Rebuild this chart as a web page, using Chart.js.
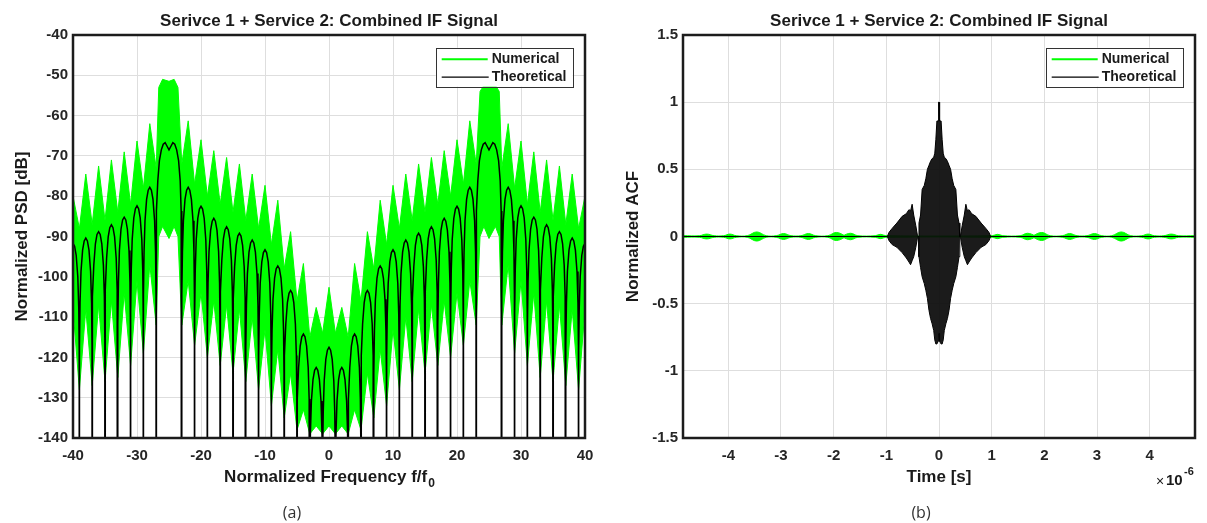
<!DOCTYPE html>
<html><head><meta charset="utf-8">
<script src="https://cdn.jsdelivr.net/npm/chart.js@4/dist/chart.umd.min.js"></script>
<style>
html,body{margin:0;padding:0;background:#fff;}
#wrap{position:relative;width:1207px;height:523px;overflow:hidden;background:#fff;}
#c1{position:absolute;left:0;top:0;}
#c2{position:absolute;left:603px;top:0;}
.cap{position:absolute;top:500px;width:40px;text-align:center;font-family:"Open Sans","Noto Sans",sans-serif;font-size:16px;color:#333;line-height:24px;}
</style></head>
<body><div id="wrap">
<canvas id="c1" width="603" height="523"></canvas>
<canvas id="c2" width="604" height="523"></canvas>
<div class="cap" style="left:272px;">(a)</div>
<div class="cap" style="left:901px;">(b)</div>
</div>
<script>
// ---------- Panel (a): PSD data ----------
const psdLobeCenter = [-40,-38,-36,-34,-32,-30,-28,-25,-22,-20,-18,-16,-14,-12,-10,-8,-6,-4,-2,0,2,4,6,8,10,12,14,16,18,20,22,25,28,30,32,34,36,38,40];
const psdTheoPeak   = [-91.7,-90.4,-88.8,-87.1,-85.2,-82.4,-77.8,-66.7,-77.8,-82.5,-85.5,-87.6,-89.2,-90.9,-93.3,-97.3,-103.4,-114.2,-122.5,-117.5,-122.5,-114.2,-103.4,-97.3,-93.3,-90.9,-89.2,-87.6,-85.5,-82.5,-77.8,-66.7,-77.8,-82.4,-85.2,-87.1,-88.8,-90.4,-91.7];
const psdNumTop     = [-80,-74.5,-72.5,-71,-69,-66.3,-62,-51.5,-61.3,-66,-68.7,-70.4,-72,-74.5,-77.3,-81,-88.8,-96.7,-107.6,-102.6,-107.6,-96.7,-88.8,-81,-77.3,-74.5,-72,-70.4,-68.7,-66,-61.3,-52.5,-62,-66.3,-69,-71,-72.5,-74.5,-80];
const psdNumBottom  = [-108,-108,-107,-106,-104,-101,-97,-90.5,-101,-104,-106,-107,-108,-110,-113,-118,-124,-133,-137,-137,-137,-133,-124,-118,-113,-110,-108,-107,-106,-104,-101,-90.5,-97,-101,-104,-106,-107,-108,-108];
const psdNullX      = [-39,-37,-35,-33,-31,-29,-27,-23,-21,-19,-17,-15,-13,-11,-9,-7,-5,-3,-1,1,3,5,7,9,11,13,15,17,19,21,23,27,29,31,33,35,37,39];
const psdNumNotch   = [-88,-87,-86,-84,-82,-78,-73,-72,-77,-80,-82,-84,-86,-88,-92,-98,-106,-115,-114,-114,-115,-106,-98,-92,-88,-86,-84,-82,-80,-77,-72,-73,-78,-82,-84,-86,-87,-88];
const psdNumNullLow = [-128,-127,-126,-125,-122,-119,-112,-112,-117,-120,-122,-124,-126,-128,-132,-135,-138,-139,-139,-139,-139,-138,-135,-132,-128,-126,-124,-122,-120,-117,-112,-112,-119,-122,-125,-126,-127,-128];
const psdNumMainX      = [-26.6,-26,-24.2,-23.6,23.6,24.2,26,26.6];
const psdNumMainTop    = [-53,-51,-51,-53,-54,-52.5,-52.5,-54];
const psdNumMainBottom = [-90,-87.5,-87.5,-90,-90,-87.5,-87.5,-90];
// lobe profiles (offset from lobe centre, dB below lobe peak)
const psdSideShapeDx = [-1,-0.97,-0.9,-0.75,-0.5,-0.25,0,0.25,0.5,0.75,0.9,0.97,1];
const psdSideShapeDb = [-300,-26.5,-16.1,-8.3,-3.0,-0.7,0,-0.7,-3.0,-8.3,-16.1,-26.5,-300];
const psdMainShapeDx = [-2,-1.97,-1.9,-1.75,-1.5,-1.2,-0.9,-0.6,-0.3,0,0.3,0.6,0.9,1.2,1.5,1.75,1.9,1.97,2];
const psdMainShapeDb = [-300,-27,-17,-9.5,-4.5,-1.8,-0.4,0,-0.9,-1.8,-0.9,0,-0.4,-1.8,-4.5,-9.5,-17,-27,-300];
const psdXTicks = [-40,-30,-20,-10,0,10,20,30,40];
const psdYTicks = [-140,-130,-120,-110,-100,-90,-80,-70,-60,-50,-40];

// ---------- Panel (b): ACF data (time in 1e-6 s) ----------
const acfTheoT     = [-4.86,-0.98,-0.95,-0.89,-0.8,-0.7,-0.62,-0.57,-0.54,-0.51,-0.48,-0.44,-0.41,-0.395,-0.38,-0.35,-0.32,-0.28,-0.25,-0.22,-0.19,-0.16,-0.13,-0.1,-0.08,-0.06,-0.04,-0.015,-0.008,0,0.008,0.015,0.04,0.06,0.08,0.1,0.13,0.16,0.19,0.22,0.25,0.28,0.32,0.35,0.38,0.395,0.41,0.44,0.48,0.51,0.54,0.57,0.62,0.7,0.8,0.89,0.95,0.98,4.86];
const acfTheoUpper = [0,0,0.03,0.06,0.1,0.15,0.17,0.2,0.19,0.24,0.16,0.08,0.01,0,0.1,0.16,0.35,0.38,0.43,0.5,0.53,0.56,0.58,0.59,0.62,0.72,0.86,0.86,1.0,1.0,1.0,0.86,0.86,0.72,0.62,0.59,0.58,0.56,0.53,0.5,0.43,0.38,0.35,0.16,0.1,0,0.01,0.08,0.16,0.24,0.19,0.2,0.17,0.15,0.1,0.06,0.03,0,0];
const acfTheoLower = [0,0,-0.03,-0.06,-0.08,-0.12,-0.16,-0.19,-0.21,-0.18,-0.15,-0.08,-0.01,0,-0.15,-0.23,-0.3,-0.35,-0.4,-0.46,-0.55,-0.61,-0.65,-0.7,-0.77,-0.8,-0.8,-0.78,-0.72,-0.72,-0.72,-0.78,-0.8,-0.8,-0.77,-0.7,-0.65,-0.61,-0.55,-0.46,-0.4,-0.35,-0.3,-0.23,-0.15,0,-0.01,-0.08,-0.15,-0.18,-0.21,-0.19,-0.16,-0.12,-0.08,-0.06,-0.03,0,0];
const acfNumBumpT   = [-4.41,-3.97,-3.46,-2.95,-2.48,-1.95,-1.68,-1.11,1.11,1.68,1.95,2.48,2.95,3.46,3.97,4.41];
const acfNumBumpAmp = [0.018,0.018,0.034,0.022,0.022,0.03,0.024,0.016,0.016,0.024,0.03,0.022,0.022,0.034,0.018,0.018];
const acfNumBumpW   = [0.14,0.12,0.18,0.14,0.14,0.16,0.14,0.1,0.1,0.14,0.16,0.14,0.14,0.18,0.12,0.14];
const acfNumBase = 0.006;
const acfXTicks = [-4,-3,-2,-1,0,1,2,3,4];
const acfYTicks = [-1.5,-1,-0.5,0,0.5,1,1.5];

// ---------- build tables ----------
const psdTheo = [];
psdLobeCenter.forEach((c,i)=>{
  const main = Math.abs(c)===25;
  const dx = main?psdMainShapeDx:psdSideShapeDx, db = main?psdMainShapeDb:psdSideShapeDb;
  dx.forEach((d,j)=>psdTheo.push({x:c+d,y:psdTheoPeak[i]+db[j]}));
});
const psdUp=[], psdLo=[];
psdLobeCenter.forEach((c,i)=>{psdUp.push({x:c,y:psdNumTop[i]});psdLo.push({x:c,y:psdNumBottom[i]});});
psdNullX.forEach((n,i)=>{psdUp.push({x:n,y:psdNumNotch[i]});psdLo.push({x:n,y:psdNumNullLow[i]});});
psdNumMainX.forEach((m,i)=>{psdUp.push({x:m,y:psdNumMainTop[i]});psdLo.push({x:m,y:psdNumMainBottom[i]});});
psdUp.sort((a,b)=>a.x-b.x); psdLo.sort((a,b)=>a.x-b.x);

const acfTU = acfTheoT.map((t,i)=>({x:t,y:acfTheoUpper[i]}));
const acfTL = acfTheoT.map((t,i)=>({x:t,y:acfTheoLower[i]}));
const acfNU=[{x:-4.86,y:acfNumBase}], acfNL=[{x:-4.86,y:-acfNumBase}];
acfNumBumpT.forEach((t,i)=>{
  const w=acfNumBumpW[i], a=acfNumBumpAmp[i];
  acfNU.push({x:t-w,y:acfNumBase},{x:t,y:a},{x:t+w,y:acfNumBase});
  acfNL.push({x:t-w,y:-acfNumBase},{x:t,y:-a},{x:t+w,y:-acfNumBase});
});
acfNU.push({x:4.86,y:acfNumBase}); acfNL.push({x:4.86,y:-acfNumBase});

// ---------- drawing helpers ----------
const FONT = '"Liberation Sans", Arial, Helvetica, sans-serif';
const TXT = '#1a1a1a';
function decor(o){
  return {
    id:'decor',
    afterDraw(chart){
      const ctx=chart.ctx, a=chart.chartArea, cx=(a.left+a.right)/2, cy=(a.top+a.bottom)/2;
      ctx.save();
      ctx.lineWidth=2.5; ctx.strokeStyle='#1c1c1c';
      ctx.strokeRect(a.left,a.top,a.right-a.left,a.bottom-a.top);
      ctx.fillStyle=TXT; ctx.textBaseline='middle'; ctx.textAlign='center';
      ctx.font='bold 17px '+FONT;
      ctx.fillText(o.title,cx,21);
      ctx.font='bold 17px '+FONT;
      const w1=ctx.measureText(o.xLabel).width;
      let w2=0;
      if(o.xSub){ctx.font='bold 12px '+FONT; w2=ctx.measureText(o.xSub).width;}
      const sx=cx-(w1+w2)/2;
      ctx.textAlign='left'; ctx.font='bold 17px '+FONT;
      ctx.fillText(o.xLabel,sx,477);
      if(o.xSub){ctx.font='bold 12px '+FONT; ctx.fillText(o.xSub,sx+w1+1,484);}
      ctx.save(); ctx.translate(o.yLabelX,cy); ctx.rotate(-Math.PI/2);
      ctx.textAlign='center'; ctx.font='bold 17px '+FONT; ctx.fillText(o.yLabel,0,0); ctx.restore();
      if(o.expo){
        const ex=a.right-39;
        ctx.textAlign='left';
        ctx.font='14px '+FONT; ctx.fillText('\u00d7',ex,482);
        ctx.font='bold 15px '+FONT; ctx.fillText('10',ex+10,481);
        ctx.font='bold 11px '+FONT; ctx.fillText('-6',ex+28,472);
      }
      const lw=137, lh=39, lx=a.right-12.3-lw, ly=a.top+12.7;
      ctx.fillStyle='#fff'; ctx.fillRect(lx,ly,lw,lh);
      ctx.lineWidth=1; ctx.strokeStyle='#333'; ctx.strokeRect(Math.round(lx)+0.5,Math.round(ly)+0.5,lw,lh);
      ctx.lineWidth=2; ctx.strokeStyle='#00ff00';
      ctx.beginPath(); ctx.moveTo(lx+6,ly+11.5); ctx.lineTo(lx+52,ly+11.5); ctx.stroke();
      ctx.lineWidth=1.2; ctx.strokeStyle='#000';
      ctx.beginPath(); ctx.moveTo(lx+6,ly+29.5); ctx.lineTo(lx+53,ly+29.5); ctx.stroke();
      ctx.fillStyle=TXT; ctx.font='bold 14px '+FONT; ctx.textAlign='left';
      ctx.fillText('Numerical',lx+56,ly+11.5);
      ctx.fillText('Theoretical',lx+56,ly+29.5);
      ctx.restore();
    }
  };
}
function scales(xmin,xmax,xt,ymin,ymax,yt,yw,xh){
  const tf={family:FONT,size:15,weight:'bold'};
  const fmt=v=>String(v);
  return {
    x:{type:'linear',min:xmin,max:xmax,
       afterBuildTicks:s=>{s.ticks=xt.map(v=>({value:v}));},
       afterFit:s=>{s.height=xh;},
       grid:{color:'#dedede',lineWidth:1,drawTicks:false},border:{display:false},
       ticks:{font:tf,color:'#262626',padding:9,maxRotation:0,autoSkip:false,callback:fmt}},
    y:{type:'linear',min:ymin,max:ymax,
       afterBuildTicks:s=>{s.ticks=yt.map(v=>({value:v}));},
       afterFit:s=>{s.width=yw;},
       grid:{color:'#dedede',lineWidth:1,drawTicks:false},border:{display:false},
       ticks:{font:tf,color:'#262626',padding:5,autoSkip:false,callback:fmt}}
  };
}
const common = {responsive:false,animation:false,events:[],
  plugins:{legend:{display:false},tooltip:{enabled:false},title:{display:false}},
  elements:{point:{radius:0}}};

new Chart(document.getElementById('c1'),{
  type:'line',
  data:{datasets:[
    {label:'Theoretical',data:psdTheo,borderColor:'#000',borderWidth:1.5,fill:false,order:0,tension:0},
    {label:'Numerical',data:psdUp,borderColor:'#00ff00',backgroundColor:'#00ff00',borderWidth:1,fill:'+1',order:1,tension:0},
    {label:'NumericalLow',data:psdLo,borderColor:'#00ff00',borderWidth:1,fill:false,order:1,tension:0}
  ]},
  options:Object.assign({},common,{
    layout:{padding:{top:35,right:18,left:0,bottom:0}},
    scales:scales(-40,40,psdXTicks,-140,-40,psdYTicks,73,85)
  }),
  plugins:[decor({title:'Serivce 1 + Service 2: Combined IF Signal',xLabel:'Normalized Frequency f/f',xSub:'0',yLabel:'Normalized PSD [dB]',yLabelX:22})]
});

new Chart(document.getElementById('c2'),{
  type:'line',
  data:{datasets:[
    {label:'Theoretical',data:acfTU,borderColor:'#000',backgroundColor:'rgba(8,8,8,0.92)',borderWidth:1,fill:'+1',order:0,tension:0},
    {label:'TheoreticalLow',data:acfTL,borderColor:'#000',borderWidth:1,fill:false,order:0,tension:0},
    {label:'Numerical',data:acfNU,borderColor:'#00ff00',backgroundColor:'#00ff00',borderWidth:1,fill:'+1',order:1,tension:0.4},
    {label:'NumericalLow',data:acfNL,borderColor:'#00ff00',borderWidth:1,fill:false,order:1,tension:0.4}
  ]},
  options:Object.assign({},common,{
    layout:{padding:{top:35,right:12,left:0,bottom:0}},
    scales:scales(-4.86,4.86,acfXTicks,-1.5,1.5,acfYTicks,80,85)
  }),
  plugins:[decor({title:'Serivce 1 + Service 2: Combined IF Signal',xLabel:'Time [s]',yLabel:'Normalized ACF',yLabelX:30,expo:true})]
});
</script>
</body></html>
